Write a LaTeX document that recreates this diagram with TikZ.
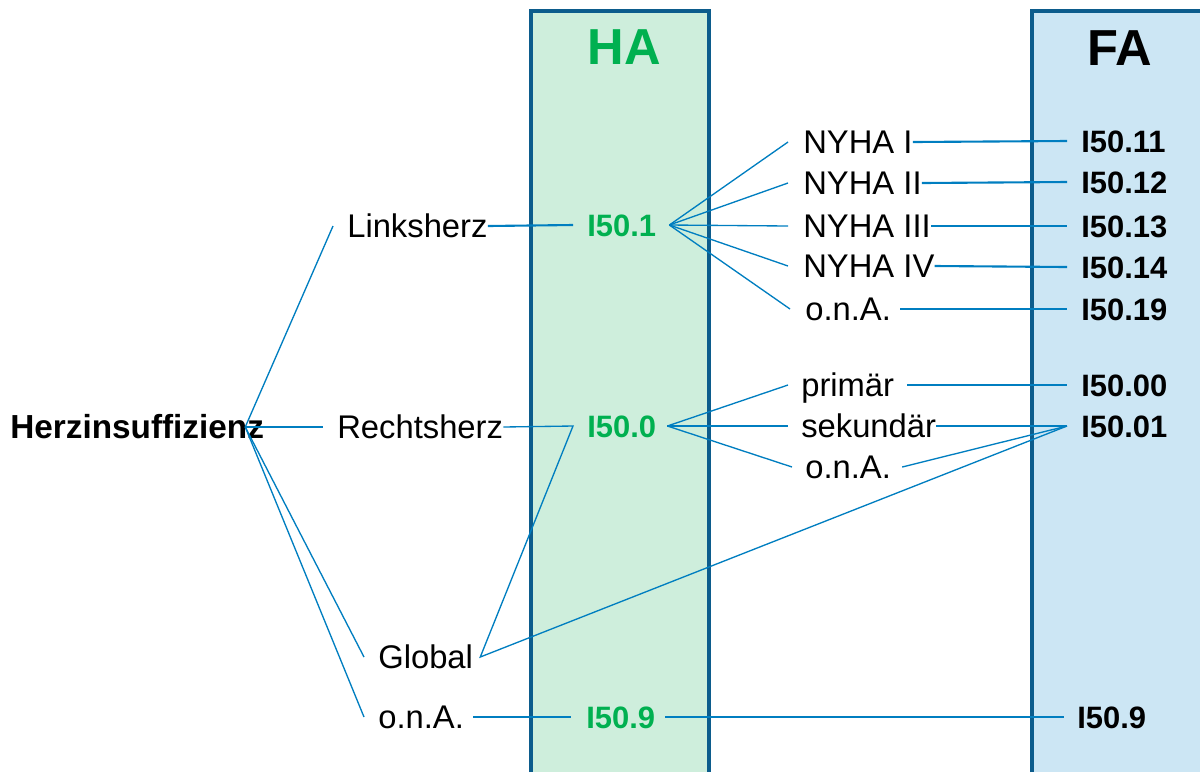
\documentclass[tikz,border=0pt]{standalone}
\usepackage{fontspec}
\setmainfont{Liberation Sans}
\usepackage{tikz}
\usetikzlibrary{calc}
\definecolor{linkblue}{RGB}{0,126,192}
\definecolor{colframe}{RGB}{12,92,140}
\definecolor{hafill}{RGB}{206,238,220}
\definecolor{fafill}{RGB}{204,230,244}
\definecolor{hagreen}{RGB}{0,176,80}

\begin{document}
\begin{tikzpicture}[x=0.025cm,y=-0.025cm,
  term/.style={anchor=west,inner sep=0pt,text height=16.6pt,text depth=0pt,
    font=\fontsize{23.3}{26}\selectfont},
  hacode/.style={anchor=west,inner sep=0pt,text height=15.8pt,text depth=0pt,
    text=hagreen,font=\fontsize{22}{26}\selectfont\bfseries},
  facode/.style={anchor=west,inner sep=0pt,text height=15.8pt,text depth=0pt,
    font=\fontsize{22}{26}\selectfont\bfseries},
  head/.style={font=\fontsize{36}{40}\selectfont\bfseries},
  frame/.style={draw=colframe,line width=2.6pt},
  fan/.style={draw=linkblue,line width=0.95pt},
  link/.style={draw=linkblue,line width=1.5pt}
]
\useasboundingbox (0,0) rectangle (1200,772);

% columns
\fill[hafill] (531,11) rectangle (709,772);
\draw[frame] (531,772) -- (531,11) -- (709,11) -- (709,772);
\fill[fafill] (1032,11) rectangle (1200,772);
\draw[frame] (1032,772) -- (1032,11) -- (1200,11);

\node[head,text=hagreen] (ha) at (624,47) {HA};
\node[head] (fa) at (1120,48) {FA};

% left tree
\node[term,font=\fontsize{23.7}{26}\selectfont\bfseries] (herz) at (10,427) {Herzinsuffizienz};
\node[term] (links) at (347,226) {Linksherz};
\node[term] (rechts) at (337,427) {Rechtsherz};
\node[term] (global) at (378,657) {Global};
\node[term] (ona1) at (378,717) {o.n.A.};

% HA codes
\node[hacode] (i501) at (587,225) {I50.1};
\node[hacode] (i500) at (587,426) {I50.0};
\node[hacode] (i509) at (586,717) {I50.9};

% middle terms
\node[term] (nyha1) at (803,142) {NYHA I};
\node[term] (nyha2) at (803,183) {NYHA II};
\node[term] (nyha3) at (803,226) {NYHA III};
\node[term] (nyha4) at (803,266) {NYHA IV};
\node[term] (ona2) at (805,309) {o.n.A.};
\node[term] (prim) at (801,385) {primär};
\node[term] (sek) at (801,426) {sekundär};
\node[term] (ona3) at (805,467) {o.n.A.};

% FA codes
\node[facode] (f11) at (1081,141) {I50.11};
\node[facode] (f12) at (1081,182) {I50.12};
\node[facode] (f13) at (1081,226) {I50.13};
\node[facode] (f14) at (1081,267) {I50.14};
\node[facode] (f19) at (1081,309) {I50.19};
\node[facode] (f00) at (1081,385) {I50.00};
\node[facode] (f01) at (1081,426) {I50.01};
\node[facode] (f9) at (1077,717) {I50.9};

\coordinate (hz) at ($(herz.east)+(-19,0)$);
\coordinate (in01) at ($(f01.west)+(-14,0)$);

% Herzinsuffizienz fan
\draw[fan] ($(links.west)+(-14,0)$) -- (hz);
\draw[link] (hz) -- ($(rechts.west)+(-14,0)$);
\draw[fan] (hz) -- ($(global.west)+(-14,0)$);
\draw[fan] (hz) -- ($(ona1.west)+(-14,0)$);

% to HA
\draw[link] (links.east) -- ($(i501.west)+(-14,0)$);
\draw[fan] (rechts.east) -- ($(i500.west)+(-14,0)$) -- ($(global.east)+(7,0)$) -- (in01);
\draw[link] ($(ona1.east)+(9,0)$) -- ($(i509.west)+(-15,0)$);
\draw[link] ($(i509.east)+(10,0)$) -- ($(f9.west)+(-13,0)$);

% I50.1 fan
\foreach \t in {nyha1,nyha2,nyha3,nyha4,ona2}
  \draw[fan] ($(i501.east)+(13,0)$) -- ($(\t.west)+(-15,0)$);
% I50.0 fan
\foreach \t in {prim,sek,ona3}
  \draw[fan] ($(i500.east)+(11,0)$) -- ($(\t.west)+(-13,0)$);
\draw[link] ($(i500.east)+(11,0)$) -- ($(sek.west)+(-13,0)$);

% to FA
\draw[link] (nyha1.east) -- ($(f11.west)+(-14,0)$);
\draw[link] (nyha2.east) -- ($(f12.west)+(-14,0)$);
\draw[link] (nyha3.east) -- ($(f13.west)+(-14,0)$);
\draw[link] (nyha4.east) -- ($(f14.west)+(-14,0)$);
\draw[link] ($(ona2.east)+(9,0)$) -- ($(f19.west)+(-14,0)$);
\draw[link] ($(prim.east)+(13,0)$) -- ($(f00.west)+(-14,0)$);
\draw[link] (sek.east) -- (in01);
\draw[fan] ($(ona3.east)+(11,0)$) -- (in01);
\end{tikzpicture}
\end{document}
